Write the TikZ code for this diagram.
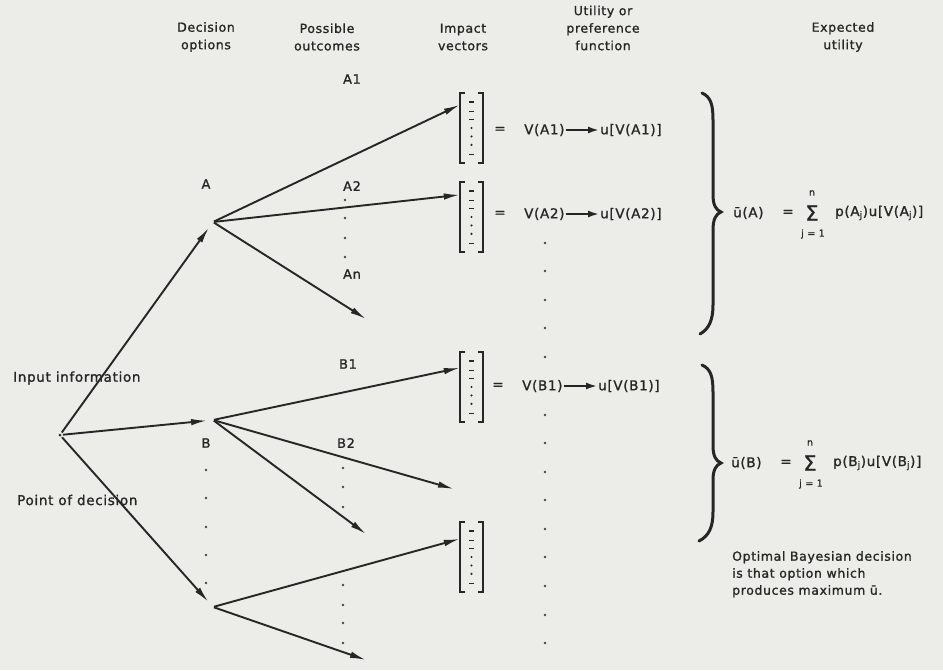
\documentclass[tikz,border=0pt]{standalone}
\usepackage{fontspec}
\setmainfont{DejaVu Sans}[LetterSpace=5,FakeBold=1.2]
\usetikzlibrary{arrows.meta,calc}
\definecolor{bg}{RGB}{236,236,233}
\definecolor{ink}{RGB}{38,38,38}
\begin{document}
\begin{tikzpicture}[x=1pt,y=-1pt,
  every node/.style={font=\fontsize{13.5}{17}\selectfont, text=ink, inner sep=0pt},
  hdr/.style={align=center, font=\fontsize{12.5}{17.5}\selectfont},
  lbl/.style={font=\fontsize{13}{17}\selectfont},
  small/.style={font=\fontsize{9.5}{11}\selectfont},
  arr/.style={draw=ink, line width=1.9pt, -{Latex[length=16pt,width=6.5pt]}, shorten <=1pt},
  sarr/.style={draw=ink, line width=1.9pt, -{Latex[length=11pt,width=7pt]}, shorten <=1pt, shorten >=1pt},
  dotm/.style={circle, fill=ink!85, inner sep=0pt, minimum size=2.8pt},
  vec/.style={minimum width=23pt, minimum height=70pt},
  brk/.style={draw=ink, line width=1.6pt},
  brc/.style={draw=ink, line width=3pt, line cap=round},
]
\fill[bg] (0,0) rectangle (943,670);
\useasboundingbox (0,0) rectangle (943,670);

% headers
\node[hdr] (h1) at (206,37) {Decision\\options};
\node[hdr] (h2) at (327,37) {Possible\\outcomes};
\node[hdr] (h3) at (463,37) {Impact\\vectors};
\node[hdr] (h4) at (603,28) {Utility or\\preference\\function};
\node[hdr] (h5) at (843,37) {Expected\\utility};

% decision point
\coordinate (O) at (60,435);
\fill[ink] (O) circle (1.5);
\node[anchor=west] (inp) at (13,378) {Input information};
\node[anchor=west] (pod) at (17,500) {Point of decision};

% branch points
\coordinate (A) at (213,222);
\coordinate (B) at (213,420);
\coordinate (C) at (213,607);
\node[lbl] (la) at (206,184) {A};
\node[lbl] (lb) at (206,443) {B};

\draw[arr, shorten <=3pt, shorten >=7pt] (O) -- (A);
\draw[arr, shorten <=3pt, shorten >=6pt] (O) -- (B);
\draw[arr, shorten <=3pt, shorten >=7pt] (O) -- (C);

% impact vectors
\node[vec] (vA1) at (471.5,128) {};
\node[vec] (vA2) at (471.5,217) {};
\node[vec] (vB1) at (471.5,387) {};
\node[vec] (vC)  at (471.5,557) {};
\foreach \v in {vA1,vA2,vB1,vC}{
  \draw[brk] ([xshift=5pt]\v.north west) -- (\v.north west) -- (\v.south west) -- ([xshift=5pt]\v.south west);
  \draw[brk] ([xshift=-5pt]\v.north east) -- (\v.north east) -- (\v.south east) -- ([xshift=-5pt]\v.south east);
  \foreach \f in {0.13,0.26,0.38,0.88}{
    \draw[draw=ink, line width=1.1pt] ($(\v.north)!\f!(\v.south)+(-2.5,0)$) -- ++(5,0);
  }
  \foreach \f in {0.5,0.62,0.74}{
    \fill[ink] ($(\v.north)!\f!(\v.south)$) circle (1.2);
  }
}

% outcome labels
\node[lbl] (a1) at (352,79) {A1};
\node[lbl] (a2) at (352,186) {A2};
\node[lbl] (an) at (352,274) {An};
\node[lbl] (b1) at (348,364) {B1};
\node[lbl] (b2) at (346,443) {B2};

% free ends
\coordinate (anE) at (366,319);
\coordinate (b2E) at (454,489);
\coordinate (b3E) at (366,534);
\coordinate (c2E) at (366,660);

\draw[arr] (A) -- ([yshift=-12pt]vA1.north west);
\draw[arr] (A) -- ([yshift=-13pt]vA2.north west);
\draw[arr] (A) -- (anE);
\draw[arr] (B) -- ([yshift=-16pt]vB1.north west);
\draw[arr] (B) -- (b2E);
\draw[arr] (B) -- (b3E);
\draw[arr] (C) -- ([yshift=-17pt]vC.north west);
\draw[arr] (C) -- (c2E);

% dots
\foreach \y in {200,218,238,257}{ \node[dotm] at (345,\y) {}; }
\foreach \y in {468,487,507,585,605,623,643}{ \node[dotm] at (343,\y) {}; }
\foreach \y in {470,498,527,555,583}{ \node[dotm] at (206,\y) {}; }
\foreach \y in {243,271,300,328,357,415,443,472,500,529,557,586,615,643}{ \node[dotm] at (545,\y) {}; }

% utility rows
\node (eq1) at (500,130) {=};
\node[anchor=west] (va1) at (524,130) {V(A1)};
\node[anchor=west] (ua1) at (600,130) {u[V(A1)]};
\draw[sarr] (va1) -- (ua1);
\node (eq2) at (500,214) {=};
\node[anchor=west] (va2) at (524,214) {V(A2)};
\node[anchor=west] (ua2) at (600,214) {u[V(A2)]};
\draw[sarr] (va2) -- (ua2);
\node (eq3) at (498,386) {=};
\node[anchor=west] (vb1) at (522,386) {V(B1)};
\node[anchor=west] (ub1) at (598,386) {u[V(B1)]};
\draw[sarr] (vb1) -- (ub1);

% braces
\draw[brc] (702,93) .. controls (711,97) and (713,105) .. (713,120) -- (713,195)
  .. controls (713,205) and (716,210) .. (721,212) .. controls (716,214) and (713,219) .. (713,230)
  -- (713,305) .. controls (713,320) and (709,329) .. (700,334);
\draw[brc] (702,365) .. controls (711,369) and (713,377) .. (713,392) -- (713,446)
  .. controls (713,456) and (716,461) .. (721,463) .. controls (716,465) and (713,470) .. (713,480)
  -- (713,512) .. controls (713,527) and (709,536) .. (699,541);

% expected utility equations
\node[anchor=west] (uA) at (733,213) {ū(A)};
\node (eqA) at (788,213) {=};
\node[font=\fontsize{21}{21}\selectfont] (sA) at (812,213) {Σ};
\node[small] (nA) at (812,193) {n};
\node[small] (jA) at (813,234) {j = 1};
\node[anchor=west] (pA) at (835,213) {p(A\textsubscript{j})u[V(A\textsubscript{j})]};

\node[anchor=west] (uB) at (731,463) {ū(B)};
\node (eqB) at (786,463) {=};
\node[font=\fontsize{21}{21}\selectfont] (sB) at (810,463) {Σ};
\node[small] (nB) at (810,443) {n};
\node[small] (jB) at (811,484) {j = 1};
\node[anchor=west] (pB) at (833,463) {p(B\textsubscript{j})u[V(B\textsubscript{j})]};

\node[anchor=north west, align=left, font=\fontsize{12.5}{17}\selectfont] (opt) at (732,551)
  {Optimal Bayesian decision\\is that option which\\produces maximum ū.};
\end{tikzpicture}
\end{document}
